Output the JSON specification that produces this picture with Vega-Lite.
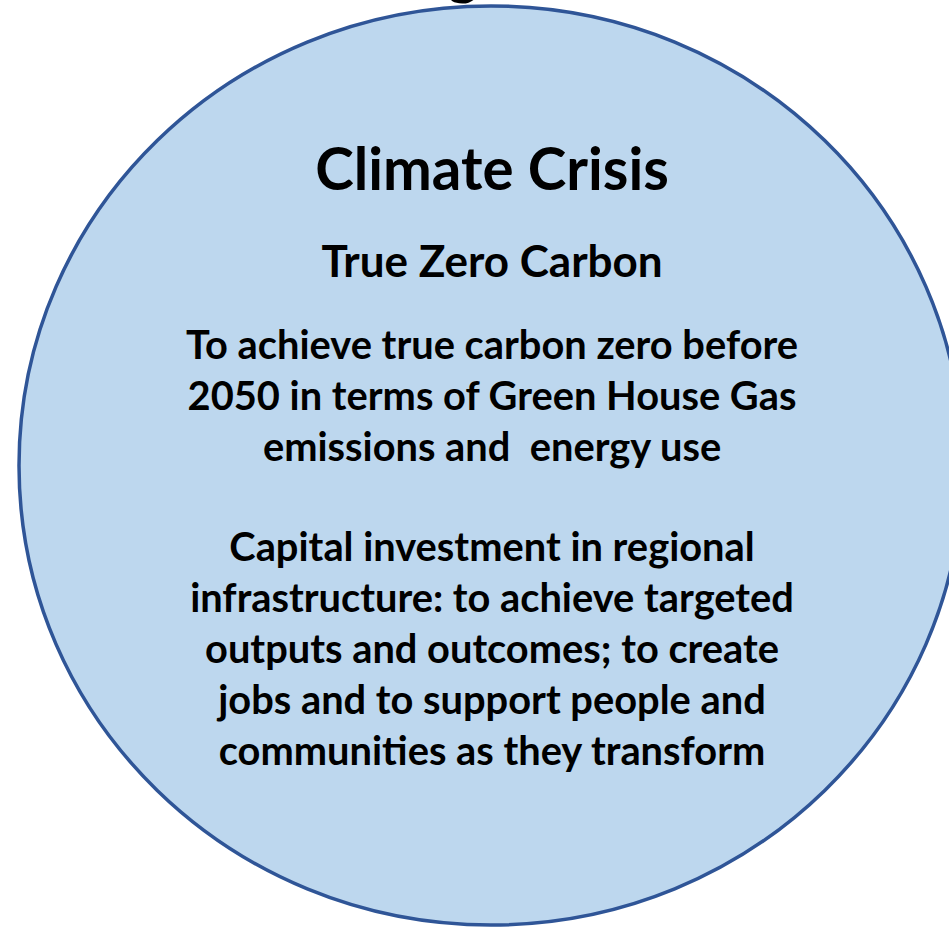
{
  "$schema": "https://vega.github.io/schema/vega-lite/v6.json",
  "width": 949,
  "height": 927,
  "padding": 0,
  "autosize": {"type": "none"},
  "background": "white",
  "config": {"view": {"stroke": null}},
  "datasets": {
    "shape": [{"x": 491, "y": 465.5}],
    "title": [{"x": 492, "y": 190, "text": "Climate Crisis"}],
    "sub": [{"x": 492, "y": 277, "text": "True Zero Carbon"}],
    "body": [
      {"x": 492, "y": 359, "text": "To achieve true carbon zero before\n2050 in terms of Green House Gas\nemissions and\u00a0 energy use"},
      {"x": 492, "y": 561, "text": "Capital investment in regional\ninfrastructure: to achieve targeted\noutputs and outcomes; to create\njobs and to support people and\ncommunities as they transform"}
    ],
    "top": [{"x": 463, "y": -7, "text": "g"}]
  },
  "encoding": {
    "x": {"field": "x", "type": "quantitative", "scale": {"domain": [0, 949], "nice": false, "zero": false}, "axis": null},
    "y": {"field": "y", "type": "quantitative", "scale": {"domain": [0, 927], "nice": false, "zero": false, "reverse": true}, "axis": null}
  },
  "layer": [
    {
      "data": {"name": "shape"},
      "mark": {
        "type": "point",
        "shape": "M -1 0 A 1 0.9735 0 1 1 1 0 A 1 0.9735 0 1 1 -1 0 Z",
        "size": 891136,
        "filled": true,
        "fill": "#BDD7EE",
        "stroke": "#2F5597",
        "strokeWidth": 3.5,
        "opacity": 1,
        "fillOpacity": 1,
        "strokeOpacity": 1
      }
    },
    {
      "data": {"name": "top"},
      "mark": {"type": "text", "font": "Lato", "fontWeight": "bold", "fontSize": 58, "color": "black", "align": "center", "baseline": "alphabetic"},
      "encoding": {"text": {"field": "text"}}
    },
    {
      "data": {"name": "title"},
      "mark": {"type": "text", "font": "Lato", "fontWeight": "bold", "fontSize": 58.3, "color": "black", "align": "center", "baseline": "alphabetic"},
      "encoding": {"text": {"field": "text"}}
    },
    {
      "data": {"name": "sub"},
      "mark": {"type": "text", "font": "Lato", "fontWeight": "bold", "fontSize": 44, "color": "black", "align": "center", "baseline": "alphabetic"},
      "encoding": {"text": {"field": "text"}}
    },
    {
      "data": {"name": "body"},
      "mark": {"type": "text", "font": "Lato", "fontWeight": "bold", "fontSize": 39.8, "color": "black", "align": "center", "baseline": "alphabetic", "lineBreak": "\n", "lineHeight": 50.9},
      "encoding": {"text": {"field": "text"}}
    }
  ]
}
